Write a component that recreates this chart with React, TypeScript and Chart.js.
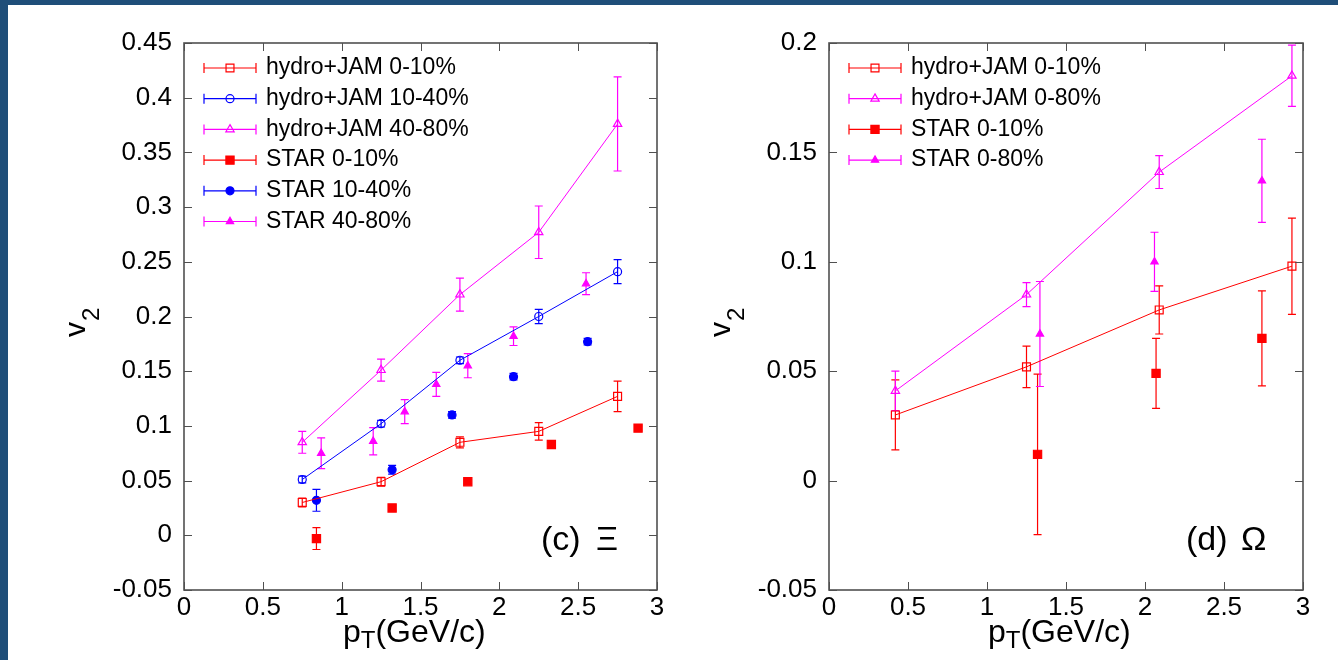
import React, { useEffect, useRef } from 'react';
import { Chart, registerables } from 'chart.js';

Chart.register(...registerables);

const FONT = '"Liberation Sans", Arial, Helvetica, sans-serif';
const RED = '#ff0000';
const BLUE = '#0000ff';
const MAGENTA = '#ff00ff';
const AXIS = '#505050';
const FRAME = '#1f4e79';

// ---- axes ----
const X_TICKS = [0, 0.5, 1, 1.5, 2, 2.5, 3];
const X_TICK_LABELS = ['0', '0.5', '1', '1.5', '2', '2.5', '3'];
const XI_Y_TICKS = [-0.05, 0, 0.05, 0.1, 0.15, 0.2, 0.25, 0.3, 0.35, 0.4, 0.45];
const XI_Y_TICK_LABELS = ['-0.05', '0', '0.05', '0.1', '0.15', '0.2', '0.25', '0.3', '0.35', '0.4', '0.45'];
const OM_Y_TICKS = [-0.05, 0, 0.05, 0.1, 0.15, 0.2];
const OM_Y_TICK_LABELS = ['-0.05', '0', '0.05', '0.1', '0.15', '0.2'];

// ---- (c) Xi data ----
const xiHydroPt = [0.75, 1.25, 1.75, 2.25, 2.75];
const xiHydro010 = [0.030, 0.049, 0.085, 0.095, 0.127];
const xiHydro010Err = [0.004, 0.004, 0.005, 0.008, 0.014];
const xiHydro1040 = [0.051, 0.102, 0.160, 0.200, 0.241];
const xiHydro1040Err = [0.003, 0.003, 0.003, 0.0065, 0.011];
const xiHydro4080 = [0.085, 0.151, 0.220, 0.277, 0.376];
const xiHydro4080Err = [0.010, 0.010, 0.015, 0.024, 0.043];
const xiStar010Pt = [0.84, 1.32, 1.80, 2.33, 2.88];
const xiStar010 = [-0.003, 0.025, 0.049, 0.083, 0.098];
const xiStar010Err = [0.010, 0.002, 0.002, 0.002, 0.002];
const xiStar1040Pt = [0.84, 1.32, 1.70, 2.09, 2.56];
const xiStar1040 = [0.032, 0.060, 0.110, 0.145, 0.177];
const xiStar1040Err = [0.010, 0.004, 0.003, 0.003, 0.003];
const xiStar4080Pt = [0.87, 1.20, 1.40, 1.60, 1.80, 2.09, 2.55];
const xiStar4080 = [0.075, 0.086, 0.113, 0.138, 0.155, 0.182, 0.230];
const xiStar4080Err = [0.014, 0.0125, 0.011, 0.011, 0.011, 0.0085, 0.010];

// ---- (d) Omega data ----
const omHydroPt = [0.42, 1.25, 2.09, 2.93];
const omHydro010 = [0.030, 0.052, 0.078, 0.098];
const omHydro010Err = [0.016, 0.0095, 0.011, 0.022];
const omHydro080 = [0.041, 0.085, 0.141, 0.185];
const omHydro080Err = [0.009, 0.0055, 0.0075, 0.014];
const omStar010Pt = [1.32, 2.07, 2.74];
const omStar010 = [0.012, 0.049, 0.065];
const omStar010Err = [0.0367, 0.016, 0.0217];
const omStar080Pt = [1.335, 2.06, 2.74];
const omStar080 = [0.067, 0.100, 0.137];
const omStar080Err = [0.024, 0.0135, 0.019];

type Shape = 'rect' | 'circle' | 'triangle';
interface Series {
  label: string;
  color: string;
  shape: Shape;
  filled: boolean;
  radius: number;
  line: boolean;
  x: number[];
  y: number[];
  err: number[];
}

const xiSeries: Series[] = [
  { label: 'hydro+JAM 0-10%', color: RED, shape: 'rect', filled: false, radius: 5.6, line: true, x: xiHydroPt, y: xiHydro010, err: xiHydro010Err },
  { label: 'hydro+JAM 10-40%', color: BLUE, shape: 'circle', filled: false, radius: 4, line: true, x: xiHydroPt, y: xiHydro1040, err: xiHydro1040Err },
  { label: 'hydro+JAM 40-80%', color: MAGENTA, shape: 'triangle', filled: false, radius: 4.8, line: true, x: xiHydroPt, y: xiHydro4080, err: xiHydro4080Err },
  { label: 'STAR 0-10%', color: RED, shape: 'rect', filled: true, radius: 5.8, line: false, x: xiStar010Pt, y: xiStar010, err: xiStar010Err },
  { label: 'STAR 10-40%', color: BLUE, shape: 'circle', filled: true, radius: 4, line: false, x: xiStar1040Pt, y: xiStar1040, err: xiStar1040Err },
  { label: 'STAR 40-80%', color: MAGENTA, shape: 'triangle', filled: true, radius: 4.2, line: false, x: xiStar4080Pt, y: xiStar4080, err: xiStar4080Err },
];

const omSeries: Series[] = [
  { label: 'hydro+JAM 0-10%', color: RED, shape: 'rect', filled: false, radius: 5.6, line: true, x: omHydroPt, y: omHydro010, err: omHydro010Err },
  { label: 'hydro+JAM 0-80%', color: MAGENTA, shape: 'triangle', filled: false, radius: 4.8, line: true, x: omHydroPt, y: omHydro080, err: omHydro080Err },
  { label: 'STAR 0-10%', color: RED, shape: 'rect', filled: true, radius: 5.8, line: false, x: omStar010Pt, y: omStar010, err: omStar010Err },
  { label: 'STAR 0-80%', color: MAGENTA, shape: 'triangle', filled: true, radius: 4.2, line: false, x: omStar080Pt, y: omStar080, err: omStar080Err },
];

interface PanelSpec {
  yMin: number;
  yMax: number;
  yTicks: number[];
  yTickLabels: string[];
  series: Series[];
  tag: string;
  particle: string;
  yAxisWidth: number;
  padRight: number;
}

function drawMarker(ctx: CanvasRenderingContext2D, shape: Shape, x: number, y: number, r: number, color: string, filled: boolean) {
  ctx.save();
  ctx.beginPath();
  if (shape === 'rect') {
    const s = r * Math.SQRT1_2;
    ctx.rect(x - s, y - s, 2 * s, 2 * s);
  } else if (shape === 'circle') {
    ctx.arc(x, y, r, 0, Math.PI * 2);
  } else {
    let a = 0;
    ctx.moveTo(x + Math.sin(a) * r, y - Math.cos(a) * r);
    a += (2 * Math.PI) / 3;
    ctx.lineTo(x + Math.sin(a) * r, y - Math.cos(a) * r);
    a += (2 * Math.PI) / 3;
    ctx.lineTo(x + Math.sin(a) * r, y - Math.cos(a) * r);
    ctx.closePath();
  }
  ctx.lineWidth = 1.2;
  ctx.strokeStyle = color;
  if (filled) {
    ctx.fillStyle = color;
    ctx.fill();
  }
  ctx.stroke();
  ctx.restore();
}

function makePlugin(spec: PanelSpec) {
  return {
    id: 'panelOverlay',
    beforeDatasetsDraw(chart: any) {
      const ctx: CanvasRenderingContext2D = chart.ctx;
      const xs = chart.scales.x;
      const ys = chart.scales.y;
      ctx.save();
      spec.series.forEach((s) => {
        ctx.strokeStyle = s.color;
        ctx.lineWidth = 1.2;
        s.x.forEach((xv, i) => {
          const px = xs.getPixelForValue(xv);
          const top = ys.getPixelForValue(s.y[i] + s.err[i]);
          const bot = ys.getPixelForValue(s.y[i] - s.err[i]);
          ctx.beginPath();
          ctx.moveTo(px, top);
          ctx.lineTo(px, bot);
          ctx.moveTo(px - 4, top);
          ctx.lineTo(px + 4, top);
          ctx.moveTo(px - 4, bot);
          ctx.lineTo(px + 4, bot);
          ctx.stroke();
        });
      });
      ctx.restore();
    },
    afterDraw(chart: any) {
      const ctx: CanvasRenderingContext2D = chart.ctx;
      const a = chart.chartArea;
      const xs = chart.scales.x;
      const ys = chart.scales.y;
      ctx.save();
      // ticks (inside, mirrored)
      ctx.strokeStyle = AXIS;
      ctx.lineWidth = 1;
      ctx.beginPath();
      X_TICKS.forEach((v) => {
        const px = Math.round(xs.getPixelForValue(v)) + 0.5;
        ctx.moveTo(px, a.bottom);
        ctx.lineTo(px, a.bottom - 8);
        ctx.moveTo(px, a.top);
        ctx.lineTo(px, a.top + 8);
      });
      spec.yTicks.forEach((v) => {
        const py = Math.round(ys.getPixelForValue(v)) + 0.5;
        ctx.moveTo(a.left, py);
        ctx.lineTo(a.left + 8, py);
        ctx.moveTo(a.right, py);
        ctx.lineTo(a.right - 8, py);
      });
      ctx.stroke();
      // frame
      ctx.lineWidth = 1.6;
      ctx.strokeRect(a.left, a.top, a.right - a.left, a.bottom - a.top);

      // legend
      ctx.font = `23px ${FONT}`;
      ctx.textBaseline = 'middle';
      ctx.textAlign = 'left';
      spec.series.forEach((s, i) => {
        const y = a.top + 25 + i * 30.7;
        const x0 = a.left + 20;
        const x1 = a.left + 72;
        ctx.strokeStyle = s.color;
        ctx.lineWidth = 1.2;
        ctx.beginPath();
        ctx.moveTo(x0, y);
        ctx.lineTo(x1, y);
        ctx.moveTo(x0, y - 5);
        ctx.lineTo(x0, y + 5);
        ctx.moveTo(x1, y - 5);
        ctx.lineTo(x1, y + 5);
        ctx.stroke();
        drawMarker(ctx, s.shape, a.left + 46, y, s.radius, s.color, s.filled);
        ctx.fillStyle = '#000';
        ctx.fillText(s.label, a.left + 82, y);
      });

      // y axis title: v_2 (rotated)
      ctx.save();
      ctx.translate(a.left - 99, 322);
      ctx.rotate(-Math.PI / 2);
      ctx.fillStyle = '#000';
      ctx.textBaseline = 'alphabetic';
      ctx.textAlign = 'left';
      ctx.font = `30px ${FONT}`;
      ctx.fillText('v', -15, 0);
      ctx.font = `24px ${FONT}`;
      ctx.fillText('2', 1, 14);
      ctx.restore();

      // x axis title: p_T(GeV/c)
      ctx.fillStyle = '#000';
      ctx.textBaseline = 'alphabetic';
      ctx.textAlign = 'left';
      let tx = a.left + 159;
      const ty = a.bottom + 52;
      ctx.font = `32px ${FONT}`;
      ctx.fillText('p', tx, ty);
      tx += ctx.measureText('p').width;
      ctx.font = `24px ${FONT}`;
      ctx.fillText('T', tx, ty + 6);
      tx += ctx.measureText('T').width;
      ctx.font = `32px ${FONT}`;
      ctx.fillText('(GeV/c)', tx, ty);

      // panel tag
      ctx.font = `34px ${FONT}`;
      ctx.fillText(spec.tag, a.left + 357, a.top + 507);
      ctx.fillText(spec.particle, a.left + 412, a.top + 507);
      ctx.restore();
    },
  };
}

function makeConfig(spec: PanelSpec): any {
  return {
    type: 'line',
    data: {
      datasets: spec.series.map((s) => ({
        label: s.label,
        data: s.x.map((x, i) => ({ x, y: s.y[i] })),
        borderColor: s.color,
        backgroundColor: s.color,
        borderWidth: 1,
        showLine: s.line,
        tension: 0,
        pointStyle: s.shape,
        pointRadius: s.radius,
        pointBorderWidth: 1.2,
        pointBorderColor: s.color,
        pointBackgroundColor: s.filled ? s.color : 'rgba(255,255,255,0)',
      })),
    },
    options: {
      animation: false,
      responsive: false,
      events: [],
      layout: { padding: { top: 43, right: spec.padRight, left: 0, bottom: 0 } },
      plugins: {
        legend: { display: false },
        tooltip: { enabled: false },
        title: { display: false },
      },
      scales: {
        x: {
          type: 'linear',
          min: 0,
          max: 3,
          afterBuildTicks: (s: any) => {
            s.ticks = X_TICKS.map((v) => ({ value: v }));
          },
          afterFit: (s: any) => {
            s.height = 70;
          },
          ticks: {
            autoSkip: false,
            maxRotation: 0,
            padding: 2,
            color: '#000',
            font: { family: FONT, size: 26 },
            callback: (_v: any, i: number) => X_TICK_LABELS[i],
          },
          grid: { display: false, drawTicks: false },
          border: { display: false },
        },
        y: {
          type: 'linear',
          min: spec.yMin,
          max: spec.yMax,
          afterBuildTicks: (s: any) => {
            s.ticks = spec.yTicks.map((v) => ({ value: v }));
          },
          afterFit: (s: any) => {
            s.width = spec.yAxisWidth;
          },
          ticks: {
            autoSkip: false,
            padding: 12,
            color: '#000',
            font: { family: FONT, size: 26 },
            callback: (_v: any, i: number) => spec.yTickLabels[i],
          },
          grid: { display: false, drawTicks: false },
          border: { display: false },
        },
      },
    },
    plugins: [makePlugin(spec)],
  };
}

const xiSpec: PanelSpec = {
  yMin: -0.05,
  yMax: 0.45,
  yTicks: XI_Y_TICKS,
  yTickLabels: XI_Y_TICK_LABELS,
  series: xiSeries,
  tag: '(c)',
  particle: 'Ξ',
  yAxisWidth: 184,
  padRight: 12,
};

const omSpec: PanelSpec = {
  yMin: -0.05,
  yMax: 0.2,
  yTicks: OM_Y_TICKS,
  yTickLabels: OM_Y_TICK_LABELS,
  series: omSeries,
  tag: '(d)',
  particle: 'Ω',
  yAxisWidth: 160,
  padRight: 35,
};

function Panel({ spec, left }: { spec: PanelSpec; left: number }) {
  const ref = useRef<HTMLCanvasElement>(null);
  useEffect(() => {
    const chart = new Chart(ref.current as HTMLCanvasElement, makeConfig(spec));
    return () => chart.destroy();
  }, [spec]);
  return (
    <div style={{ position: 'absolute', left, top: 0, width: 669, height: 660 }}>
      <canvas ref={ref} width={669} height={660} style={{ display: 'block', width: 669, height: 660 }} />
    </div>
  );
}

export default function App() {
  return (
    <div style={{ position: 'fixed', left: 0, top: 0, width: 1338, height: 660, background: '#fff', overflow: 'hidden' }}>
      <Panel spec={xiSpec} left={0} />
      <Panel spec={omSpec} left={669} />
      <div style={{ position: 'absolute', left: 0, top: 0, width: 8, height: 660, background: FRAME }} />
      <div style={{ position: 'absolute', left: 0, top: 0, width: 1338, height: 5, background: FRAME }} />
    </div>
  );
}
